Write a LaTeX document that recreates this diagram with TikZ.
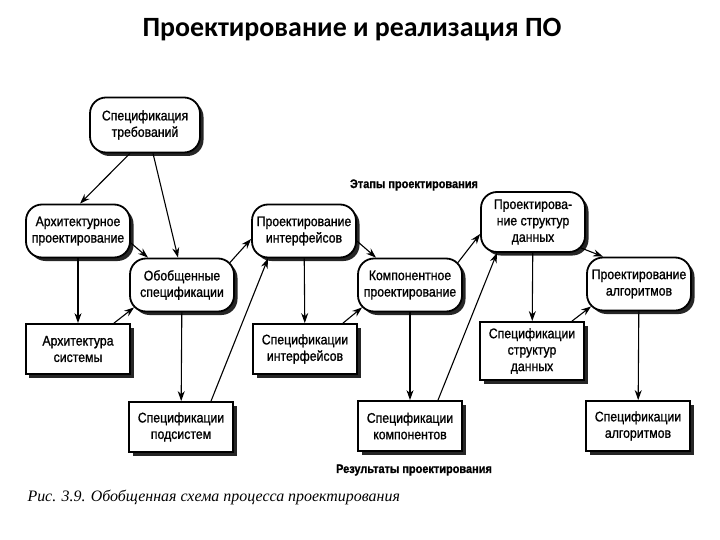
\documentclass[tikz,border=0pt]{standalone}
\usepackage{fontspec}
\setmainfont{Liberation Sans}
\newfontfamily\boxfont[FakeStretch=0.88, FakeBold=1.1]{Liberation Sans}
\newfontfamily\titlefont{Carlito}
\newfontfamily\capfont{Liberation Serif}
\usetikzlibrary{shadows}
\usetikzlibrary{arrows.meta}

\begin{document}
\begin{tikzpicture}[x=1bp, y=-1bp,
    stage/.style={draw, line width=1.8pt, rounded corners=16bp, fill=white,
      minimum width=104bp, minimum height=53bp, inner sep=2pt, align=center,
      font=\boxfont\fontsize{14}{16.5}\selectfont,
      drop shadow={shadow xshift=3.5bp, shadow yshift=-3.5bp, fill=black!85, opacity=1}},
    result/.style={draw, line width=1.8pt, fill=white,
      minimum width=104bp, minimum height=50bp, inner sep=2pt, align=center,
      font=\boxfont\fontsize{14}{16.5}\selectfont,
      drop shadow={shadow xshift=3.5bp, shadow yshift=-3.5bp, fill=black!85, opacity=1}},
    flow/.style={-{Stealth[length=10bp, width=7bp]}, line width=1.1pt}]
      \useasboundingbox (0,0) rectangle (720,540);

      \node[font=\titlefont\bfseries\fontsize{28}{32}\selectfont] (title) at (352,30) {Проектирование и реализация ПО};

      % stages
      \node[stage, minimum width=110bp, minimum height=55bp] (req) at (145,125) {Спецификация\\требований};
      \node[stage] (arch)   at (78,231)  {Архитектурное\\проектирование};
      \node[stage] (gen)    at (182,285) {Обобщенные\\спецификации};
      \node[stage] (intf)   at (304,231) {Проектирование\\интерфейсов};
      \node[stage] (comp)   at (410,285) {Компонентное\\проектирование};
      \node[stage, minimum height=60bp] (struct) at (533,222) {Проектирова-\\ние структур\\данных};
      \node[stage] (alg)    at (639,284) {Проектирование\\алгоритмов};

      % results
      \node[result] (archsys)    at (78,349)  {Архитектура\\системы};
      \node[result] (subsys)     at (181,427) {Спецификации\\подсистем};
      \node[result] (intfspec)   at (305,349) {Спецификации\\интерфейсов};
      \node[result] (compspec)   at (410,426) {Спецификации\\компонентов};
      \node[result, minimum height=58bp] (structspec) at (532,351) {Спецификации\\структур\\данных};
      \node[result] (algspec)    at (638,426) {Спецификации\\алгоритмов};

      \node[font=\boxfont\bfseries\fontsize{12.5}{14}\selectfont] (stages) at (414,185) {Этапы проектирования};
      \node[font=\boxfont\bfseries\fontsize{12.5}{14}\selectfont] (results) at (414,470) {Результаты проектирования};
      \node[anchor=west, font=\capfont\itshape\fontsize{16}{19}\selectfont] (caption) at (24,497) {Рис. 3.9. Обобщенная схема процесса проектирования};

      \draw[flow] ([xshift=-15bp]req.south) -- ([xshift=2bp]arch.north);
      \draw[flow] ([xshift=8bp]req.south) -- ([xshift=-4bp]gen.north);
      \draw[flow] ([yshift=-12bp]arch.east) -- ([xshift=-34bp]gen.north);
      \draw[flow] (arch) -- (archsys);
      \draw[flow] ([xshift=36bp]archsys.north) -- ([shift={(5bp,5bp)}]gen.south west);
      \draw[flow] ([shift={(-5bp,-5bp)}]gen.north east) -- ([yshift=-8bp]intf.west);
      \draw[flow] (gen) -- (subsys);
      \draw[flow] ([xshift=30bp]subsys.north) -- ([xshift=-36bp]intf.south);
      \draw[flow] (intf) -- (intfspec);
      \draw[flow] ([yshift=-10bp]intf.east) -- ([xshift=-34bp]comp.north);
      \draw[flow] ([xshift=38bp]intfspec.north) -- ([shift={(5bp,5bp)}]comp.south west);
      \draw[flow] ([shift={(-5bp,-5bp)}]comp.north east) -- ([yshift=-12bp]struct.west);
      \draw[flow] (comp) -- (compspec);
      \draw[flow] ([xshift=28bp]compspec.north) -- ([xshift=-36bp]struct.south);
      \draw[flow] (struct) -- (structspec);
      \draw[flow] ([shift={(-5bp,5bp)}]struct.south east) -- ([xshift=-36bp]alg.north);
      \draw[flow] ([xshift=40bp]structspec.north) -- ([shift={(5bp,5bp)}]alg.south west);
      \draw[flow] (alg) -- (algspec);
    \end{tikzpicture}
\end{document}
